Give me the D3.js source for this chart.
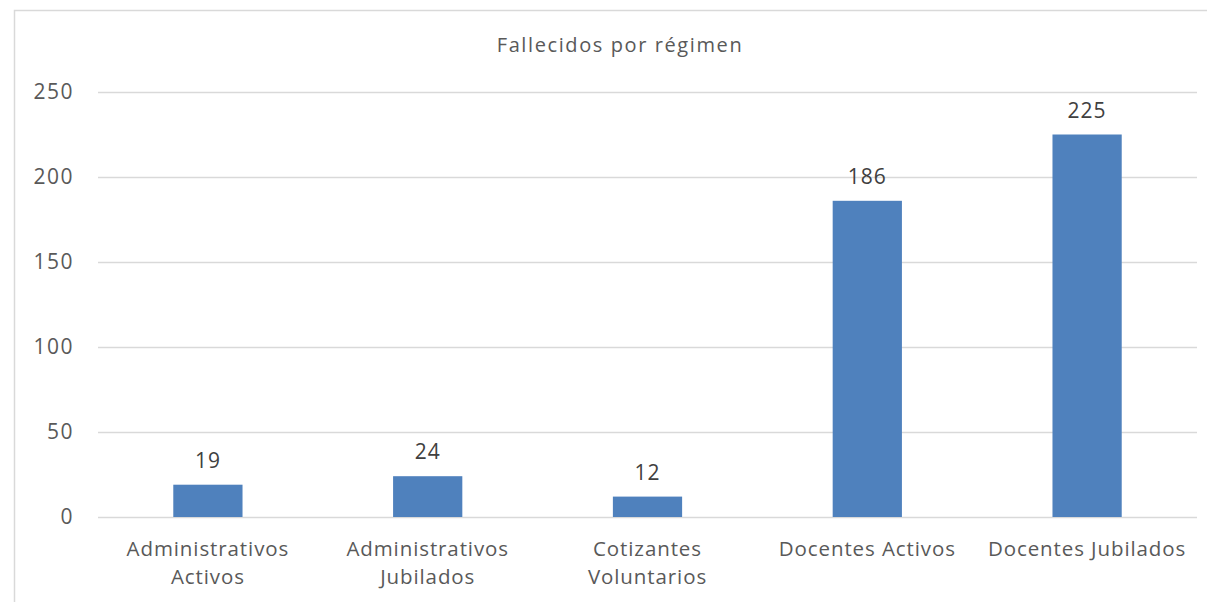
<!DOCTYPE html>
<html>
<head>
<meta charset="utf-8">
<script src="https://d3js.org/d3.v7.min.js"></script>
<style>
  body { margin: 0; background: #fff; }
  svg { display: block; font-family: "Open Sans", Lato, sans-serif; }
</style>
</head>
<body>
<div id="chart"></div>
<script>
  // chart data
  const categories = [
    ["Administrativos", "Activos"],
    ["Administrativos", "Jubilados"],
    ["Cotizantes", "Voluntarios"],
    ["Docentes Activos"],
    ["Docentes Jubilados"]
  ];
  const values = [19, 24, 12, 186, 225];
  const yTicks = [0, 50, 100, 150, 200, 250];
  const title = "Fallecidos por régimen";

  const width = 1207, height = 602;
  const margin = { top: 92, right: 10, bottom: 85, left: 98 };

  const svg = d3.select("#chart").append("svg")
    .attr("width", width)
    .attr("height", height);

  // outer frame
  svg.append("rect")
    .attr("x", 14.5).attr("y", 10.5)
    .attr("width", width + 10).attr("height", height + 10)
    .attr("fill", "none")
    .attr("stroke", "#d9d9d9")
    .attr("stroke-width", 1.5);

  const x = d3.scaleBand()
    .domain(d3.range(values.length))
    .range([margin.left, width - margin.right])
    .paddingInner(0.685)
    .paddingOuter(0.3425);

  const y = d3.scaleLinear()
    .domain([0, 250])
    .range([height - margin.bottom, margin.top]);

  // gridlines
  svg.append("g")
    .selectAll("line")
    .data(yTicks)
    .join("line")
    .attr("x1", margin.left)
    .attr("x2", width - margin.right)
    .attr("y1", d => Math.round(y(d)) + 0.5)
    .attr("y2", d => Math.round(y(d)) + 0.5)
    .attr("stroke", "#d9d9d9")
    .attr("stroke-width", 1.5);

  // y tick labels
  svg.append("g")
    .selectAll("text")
    .data(yTicks)
    .join("text")
    .attr("x", 74)
    .attr("y", d => y(d))
    .attr("dy", "0.35em")
    .attr("text-anchor", "end")
    .attr("fill", "#595959")
    .attr("font-size", 21)
    .attr("letter-spacing", 1.5)
    .text(d => d);

  // bars
  svg.append("g")
    .selectAll("rect")
    .data(values)
    .join("rect")
    .attr("x", (d, i) => x(i))
    .attr("y", d => y(d))
    .attr("width", x.bandwidth())
    .attr("height", d => y(0) - y(d))
    .attr("fill", "#4f81bd");

  // value labels
  svg.append("g")
    .selectAll("text")
    .data(values)
    .join("text")
    .attr("x", (d, i) => x(i) + x.bandwidth() / 2)
    .attr("y", d => y(d) - 17)
    .attr("text-anchor", "middle")
    .attr("fill", "#404040")
    .attr("font-size", 21)
    .attr("letter-spacing", 1)
    .text(d => d);

  // category labels
  svg.append("g")
    .selectAll("text")
    .data(categories)
    .join("text")
    .attr("x", (d, i) => x(i) + x.bandwidth() / 2)
    .attr("y", 556)
    .attr("text-anchor", "middle")
    .attr("fill", "#595959")
    .attr("font-size", 20.5)
    .attr("letter-spacing", 0.9)
    .selectAll("tspan")
    .data(d => d)
    .join("tspan")
    .attr("x", function () { return d3.select(this.parentNode).attr("x"); })
    .attr("dy", (d, i) => i === 0 ? 0 : 28)
    .text(d => d);

  // title
  svg.append("text")
    .attr("x", 620)
    .attr("y", 52)
    .attr("text-anchor", "middle")
    .attr("fill", "#595959")
    .attr("font-size", 20)
    .attr("letter-spacing", 1.6)
    .text(title);
</script>
</body>
</html>
